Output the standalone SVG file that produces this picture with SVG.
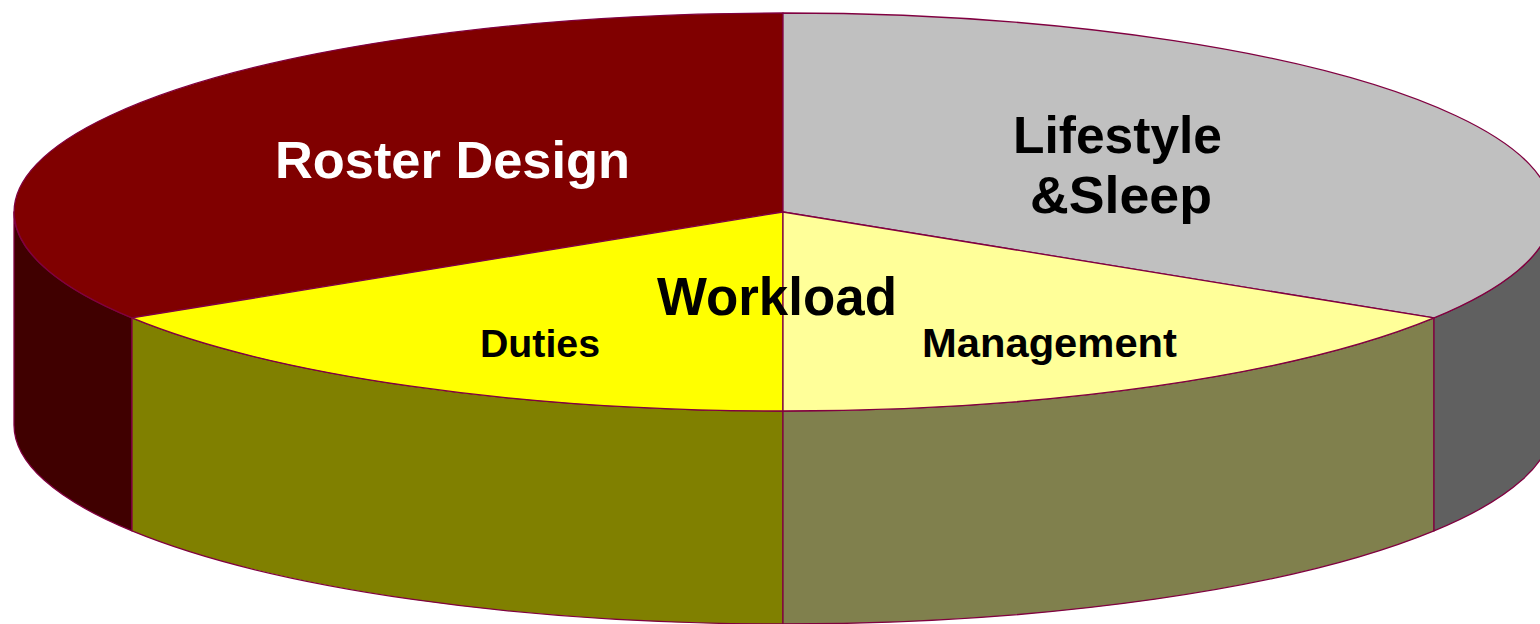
<svg xmlns="http://www.w3.org/2000/svg" width="1540" height="624" viewBox="0 0 1540 624">
  <style>
    .edge { stroke: #800040; stroke-width: 1.3; stroke-linejoin: round; }
    .lbl { font-family: "Liberation Sans", Arial, sans-serif; font-weight: bold; }
  </style>
  <rect width="1540" height="624" fill="#ffffff"/>

  <!-- side walls of the disc (depth 213) -->
  <g id="walls">
    <path class="edge" fill="#400000" d="M 14 212 A 769 199 0 0 0 132 317.9 L 132 530.9 A 769 199 0 0 1 14 425 Z"/>
    <path class="edge" fill="#808000" d="M 132 317.9 A 769 199 0 0 0 783 411 L 783 624 A 769 199 0 0 1 132 530.9 Z"/>
    <path class="edge" fill="#80804D" d="M 783 411 A 769 199 0 0 0 1434 317.9 L 1434 530.9 A 769 199 0 0 1 783 624 Z"/>
    <path class="edge" fill="#606060" d="M 1434 317.9 A 769 199 0 0 0 1552 212 L 1552 425 A 769 199 0 0 1 1434 530.9 Z"/>
  </g>

  <!-- top faces of the slices -->
  <g id="roster-design">
    <path class="edge" fill="#800000" d="M 783 212 L 783 13 A 769 199 0 0 0 132 317.9 Z"/>
    <text class="lbl" x="275" y="178" font-size="52" fill="#ffffff" textLength="355" lengthAdjust="spacingAndGlyphs">Roster Design</text>
  </g>
  <g id="lifestyle-sleep">
    <path class="edge" fill="#C0C0C0" d="M 783 212 L 783 13 A 769 199 0 0 1 1434 317.9 Z"/>
    <text class="lbl" x="1013" y="153" font-size="52" fill="#000000" textLength="209" lengthAdjust="spacingAndGlyphs">Lifestyle</text>
    <text class="lbl" x="1030" y="213" font-size="52" fill="#000000" textLength="182" lengthAdjust="spacingAndGlyphs">&amp;Sleep</text>
  </g>
  <g id="duties">
    <path class="edge" fill="#FFFF00" d="M 783 212 L 132 317.9 A 769 199 0 0 0 783 411 Z"/>
    <text class="lbl" x="480" y="357" font-size="39" fill="#000000" textLength="120" lengthAdjust="spacingAndGlyphs">Duties</text>
  </g>
  <g id="management">
    <path class="edge" fill="#FFFF99" d="M 783 212 L 783 411 A 769 199 0 0 0 1434 317.9 Z"/>
    <text class="lbl" x="922" y="357" font-size="40" fill="#000000" textLength="255" lengthAdjust="spacingAndGlyphs">Management</text>
  </g>

  <!-- central title over the disc -->
  <g id="workload">
    <text class="lbl" x="657" y="315" font-size="54" fill="#000000" textLength="240" lengthAdjust="spacingAndGlyphs">Workload</text>
  </g>
</svg>
